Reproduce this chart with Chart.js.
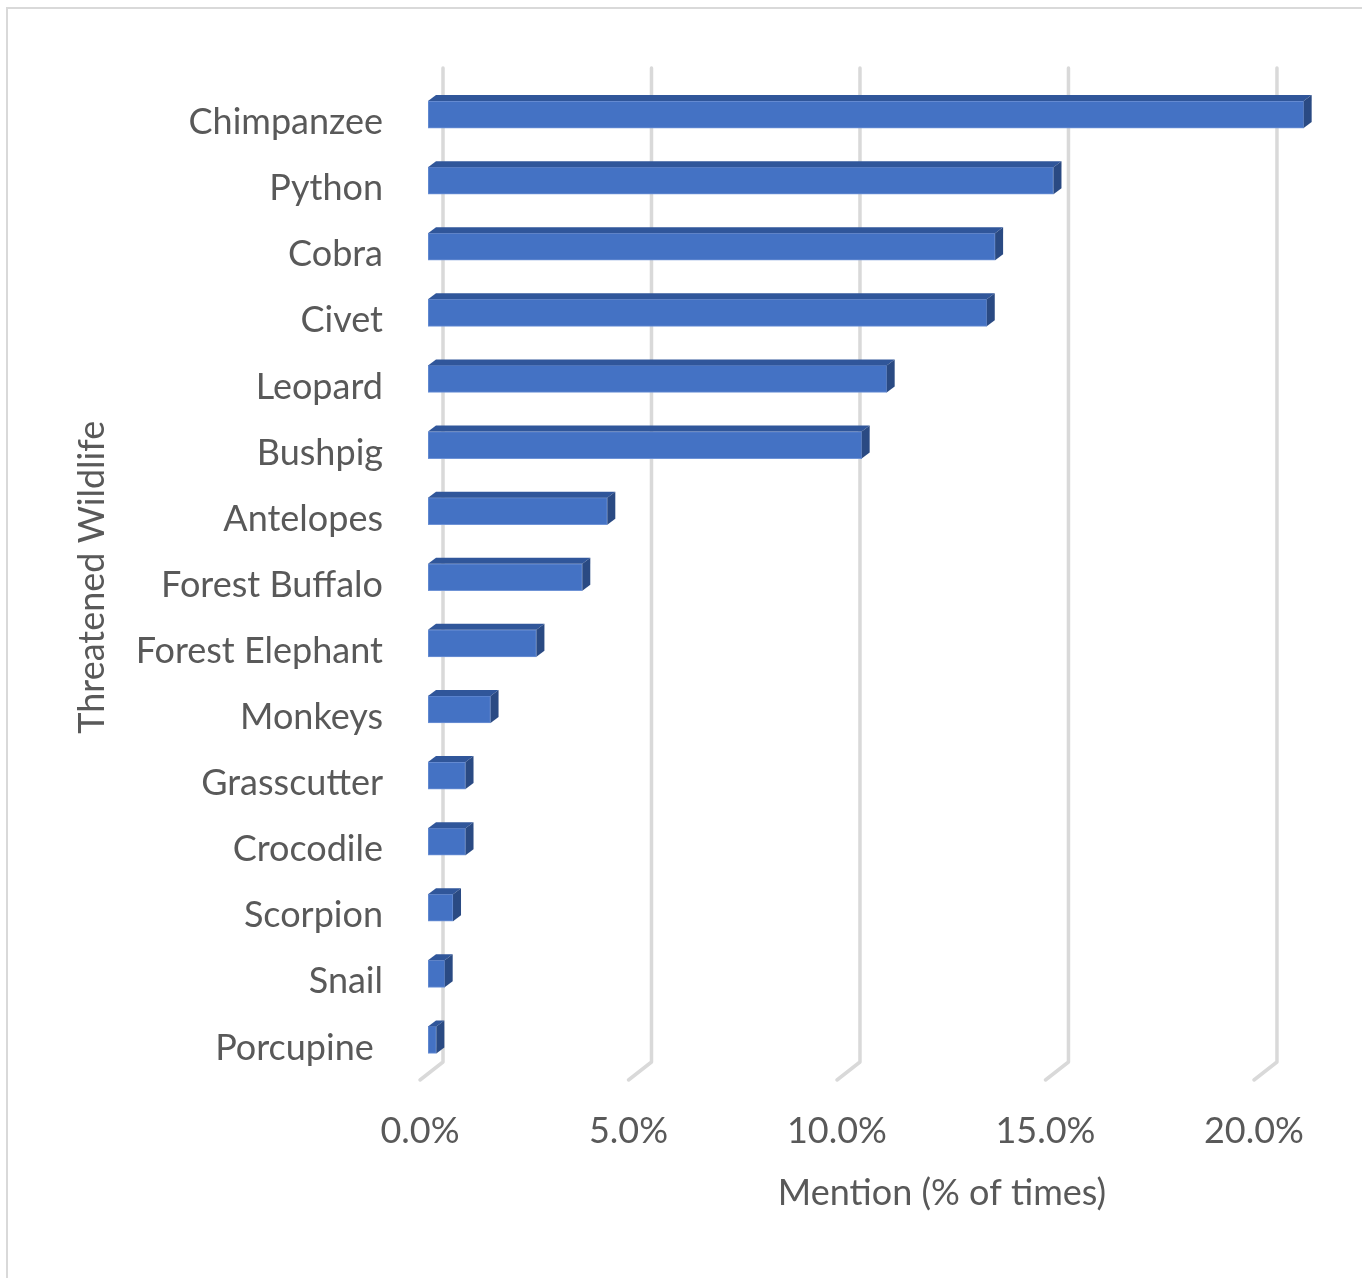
<!DOCTYPE html>
<html><head><meta charset="utf-8">
<script src="https://cdn.jsdelivr.net/npm/chart.js@4/dist/chart.umd.min.js"></script>
<style>
html,body{margin:0;padding:0;background:#fff;}
#wrap{position:relative;width:1362px;height:1278px;overflow:hidden;}
#frame{position:absolute;left:6px;top:7px;width:1400px;height:1400px;border:2px solid #d9d9d9;box-sizing:border-box;pointer-events:none;}
canvas{position:absolute;left:0;top:0;}
</style></head><body>
<div id="wrap"><canvas id="c" width="1362" height="1278"></canvas><div id="frame"></div></div>
<script>
const categories = ["Chimpanzee","Python","Cobra","Civet","Leopard","Bushpig","Antelopes","Forest Buffalo","Forest Elephant","Monkeys","Grasscutter","Crocodile","Scorpion","Snail","Porcupine "];
const mentionPct = [21.0,15.0,13.6,13.4,11.0,10.4,4.3,3.7,2.6,1.5,0.9,0.9,0.6,0.4,0.2];
const xTickValues = [0,5,10,15,20];
const xAxisTitle = "Mention (% of times)";
const yAxisTitle = "Threatened Wildlife";

const FONT = "Lato";
const FS = 36;
const TXT = "#595959";

const threeD = {
  id:'threeD',
  beforeDatasetsDraw(chart){
    const ctx=chart.ctx, xs=chart.scales.x, a=chart.chartArea;
    ctx.save();
    ctx.strokeStyle='#d9d9d9'; ctx.lineWidth=3.5; ctx.lineJoin='round'; ctx.lineCap='round';
    xs.ticks.forEach(t=>{
      const xb = xs.getPixelForValue(t.value) + 15;
      ctx.beginPath();
      ctx.moveTo(xb, a.top - 13.5);
      ctx.lineTo(xb, a.bottom - 11);
      ctx.lineTo(xb - 23, a.bottom + 7);
      ctx.stroke();
    });
    ctx.restore();
  },
  afterDatasetsDraw(chart){
    const ctx=chart.ctx, dx=8, dy=6;
    ctx.save();
    chart.getDatasetMeta(0).data.forEach(b=>{
      const p=b.getProps(['x','y','base','height'],true);
      const t=p.y-p.height/2, bt=p.y+p.height/2;
      ctx.fillStyle='#30569A';
      ctx.beginPath();ctx.moveTo(p.base,t);ctx.lineTo(p.base+dx,t-dy);ctx.lineTo(p.x+dx,t-dy);ctx.lineTo(p.x,t);ctx.closePath();ctx.fill();
      ctx.fillStyle='#2A4A83';
      ctx.beginPath();ctx.moveTo(p.x,t);ctx.lineTo(p.x+dx,t-dy);ctx.lineTo(p.x+dx,bt-dy);ctx.lineTo(p.x,bt);ctx.closePath();ctx.fill();
    });
    ctx.restore();
  },
  afterDraw(chart){
    const ctx=chart.ctx;
    ctx.save();
    ctx.font=FS+"px '"+FONT+"'";
    ctx.fillStyle=TXT; ctx.textAlign='center'; ctx.textBaseline='middle';
    ctx.fillText(xAxisTitle, 942, 1193);
    ctx.restore();
  }
};

new Chart(document.getElementById('c'), {
  type:'bar',
  data:{labels:categories, datasets:[{data:mentionPct, backgroundColor:'#4472C4', borderColor:'#6F93D6', borderWidth:1, borderSkipped:false, barThickness:27}]},
  options:{
    indexAxis:'y', responsive:false, animation:false, devicePixelRatio:1,
    layout:{padding:{left:0,right:50,top:81.5,bottom:0}},
    plugins:{legend:{display:false}, tooltip:{enabled:false}},
    scales:{
      x:{min:0,max:21.2, afterFit(s){s.height=205;},
        afterBuildTicks(s){s.ticks=xTickValues.map(v=>({value:v}));},
        grid:{display:false, drawTicks:false}, border:{display:false},
        ticks:{callback:v=>v.toFixed(1)+'%', color:TXT, font:{family:FONT,size:FS}, padding:37, labelOffset:-8, maxRotation:0, autoSkip:false}},
      y:{afterFit(s){s.width=428;},
        grid:{display:false, drawTicks:false}, border:{display:false},
        ticks:{color:TXT, font:{family:FONT,size:FS}, padding:45, labelOffset:8, autoSkip:false},
        title:{display:true, text:yAxisTitle, color:TXT, font:{family:FONT,size:FS}, padding:{top:71,bottom:0}}}
    }
  },
  plugins:[threeD]
});
</script>
</body></html>
